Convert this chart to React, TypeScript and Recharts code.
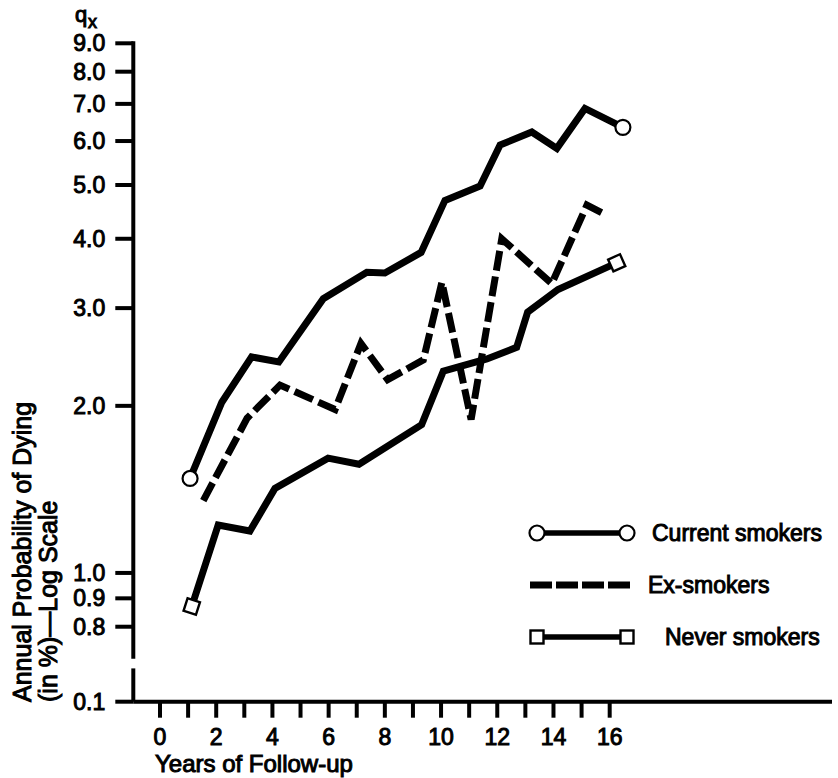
import { Label, Legend, Line, LineChart, ReferenceLine, XAxis, YAxis } from "recharts";

const FONT = '"Liberation Sans", Arial, Helvetica, sans-serif';

// values (x = position along the follow-up axis, qx = % per year)
const currentYears = [1.07, 2.2, 3.26, 4.23, 5.81, 7.36, 8.0, 9.29, 10.14, 11.39, 12.1, 13.23, 14.12, 15.12, 16.47];
const currentQx = [1.48, 2.03, 2.45, 2.4, 3.12, 3.48, 3.47, 3.78, 4.69, 4.98, 5.9, 6.23, 5.82, 6.87, 6.35];

const exYears = [1.54, 3.1, 4.27, 6.23, 7.15, 8.1, 9.37, 10.03, 11.07, 12.16, 13.94, 15.19, 15.9];
const exQx = [1.35, 1.9, 2.18, 1.97, 2.59, 2.23, 2.42, 3.34, 1.89, 4.0, 3.32, 4.6, 4.41];

const neverYears = [1.13, 2.07, 3.2, 4.09, 5.98, 7.08, 9.31, 10.08, 11.63, 12.69, 13.08, 14.16, 16.25];
const neverQx = [0.87, 1.22, 1.19, 1.42, 1.61, 1.57, 1.85, 2.31, 2.43, 2.55, 2.95, 3.24, 3.62];

const xTicks = [0, 1, 2, 3, 4, 5, 6, 7, 8, 9, 10, 11, 12, 13, 14, 15, 16];
const yTickValues = [0.1, 0.8, 0.9, 1.0, 2.0, 3.0, 4.0, 5.0, 6.0, 7.0, 8.0, 9.0];
const yTickLabels = ["0.1", "0.8", "0.9", "1.0", "2.0", "3.0", "4.0", "5.0", "6.0", "7.0", "8.0", "9.0"];

// log scale with a broken axis: 0.1 is parked just under the gap
const Y_TOP = Math.log10(9);
const Y_BOTTOM = -0.232;
const BREAK_HI = -0.151;
const BREAK_LO = -0.172;
const X_MIN = -0.95;
const X_MAX = 23.91;

const toAxis = (v: number) => (v < 0.5 ? Y_BOTTOM : Math.log10(v));
const build = (years: number[], qx: number[]) => years.map((t, i) => ({ t, y: toAxis(qx[i]) }));

const current = build(currentYears, currentQx);
const ex = build(exYears, exQx);
const never = build(neverYears, neverQx);
const yTicks = yTickValues.map(toAxis);

const circleEnds = (last: number) => (p: any) =>
  p.index === 0 || p.index === last ? (
    <circle key={`c${p.index}`} cx={p.cx} cy={p.cy} r={7.5} fill="#fff" stroke="#000" strokeWidth={2.2} />
  ) : (
    <g key={`c${p.index}`} />
  );

const squareEnds = (last: number) => (p: any) =>
  p.index === 0 || p.index === last ? (
    <rect
      key={`s${p.index}`}
      x={p.cx - 6.5}
      y={p.cy - 6.5}
      width={13}
      height={13}
      fill="#fff"
      stroke="#000"
      strokeWidth={2.4}
      transform={`rotate(${p.index === 0 ? 18 : -24} ${p.cx} ${p.cy})`}
    />
  ) : (
    <g key={`s${p.index}`} />
  );

const txt = { fontFamily: FONT, fill: "#000", stroke: "#000", strokeWidth: 1 };

const LegendBox = () => (
  <svg width={320} height={150} style={{ display: "block" }}>
    <line x1={12} y1={23} x2={102} y2={23} stroke="#000" strokeWidth={5.5} />
    <circle cx={12} cy={23} r={7.5} fill="#fff" stroke="#000" strokeWidth={2.2} />
    <circle cx={102} cy={23} r={7.5} fill="#fff" stroke="#000" strokeWidth={2.2} />
    <text x={127} y={31} fontSize={23} {...txt}>Current smokers</text>

    <line x1={5} y1={75} x2={105} y2={75} stroke="#000" strokeWidth={7} strokeDasharray="22 4" />
    <text x={123} y={83} fontSize={23} {...txt}>Ex-smokers</text>

    <line x1={12} y1={127} x2={102} y2={127} stroke="#000" strokeWidth={5.5} />
    <rect x={5.5} y={120.5} width={13} height={13} fill="#fff" stroke="#000" strokeWidth={2.4} />
    <rect x={95.5} y={120.5} width={13} height={13} fill="#fff" stroke="#000" strokeWidth={2.4} />
    <text x={140} y={135} fontSize={23} {...txt}>Never smokers</text>
  </svg>
);

const YTitle = () => (
  <g>
    <text x={75} y={22} fontSize={22} {...txt}>q</text>
    <text x={88} y={28} fontSize={18} {...txt}>x</text>
    <text transform="translate(31,702) rotate(-90)" fontSize={25} {...txt}>
      Annual Probability of Dying
    </text>
    <text transform="translate(57,702) rotate(-90)" fontSize={25} {...txt}>
      (in %)—Log Scale
    </text>
  </g>
);

const XTitle = () => (
  <text x={155} y={772} fontSize={24} {...txt}>
    Years of Follow-up
  </text>
);

export default function App() {
  return (
    <div style={{ position: "absolute", left: 0, top: 0, background: "#fff" }}>
      <LineChart width={838} height={778} margin={{ top: 43.3, right: 6, bottom: 0, left: 0 }}>
        <XAxis
          type="number"
          dataKey="t"
          domain={[X_MIN, X_MAX]}
          allowDataOverflow
          ticks={xTicks}
          interval={0}
          tickFormatter={(v: number) => (v % 2 === 0 ? String(v) : "")}
          height={76.3}
          tickSize={16}
          tickMargin={11}
          axisLine={{ stroke: "#000", strokeWidth: 4 }}
          tickLine={{ stroke: "#000", strokeWidth: 4 }}
          tick={{ fontSize: 23, ...txt }}
        >
          <Label content={<XTitle />} />
        </XAxis>
        <YAxis
          type="number"
          dataKey="y"
          domain={[Y_BOTTOM, Y_TOP]}
          allowDataOverflow
          ticks={yTicks}
          interval={0}
          tickFormatter={(v: number) => yTickLabels[yTicks.findIndex((t) => Math.abs(t - v) < 1e-6)] ?? ""}
          width={133.3}
          tickSize={18}
          tickMargin={10}
          axisLine={false}
          tickLine={{ stroke: "#000", strokeWidth: 4 }}
          tick={{ fontSize: 23, ...txt }}
        >
          <Label content={<YTitle />} />
        </YAxis>

        <ReferenceLine
          segment={[{ x: X_MIN, y: Y_TOP }, { x: X_MIN, y: BREAK_HI }]}
          stroke="#000"
          strokeWidth={4}
          strokeLinecap="square"
        />
        <ReferenceLine
          segment={[{ x: X_MIN, y: BREAK_LO }, { x: X_MIN, y: Y_BOTTOM }]}
          stroke="#000"
          strokeWidth={4}
        />

        <Line
          data={never}
          dataKey="y"
          stroke="#000"
          strokeWidth={7}
          dot={squareEnds(never.length - 1)}
          activeDot={false}
          isAnimationActive={false}
        />
        <Line
          data={ex}
          dataKey="y"
          stroke="#000"
          strokeWidth={7}
          strokeDasharray="20 6"
          dot={false}
          activeDot={false}
          isAnimationActive={false}
        />
        <Line
          data={current}
          dataKey="y"
          stroke="#000"
          strokeWidth={7}
          dot={circleEnds(current.length - 1)}
          activeDot={false}
          isAnimationActive={false}
        />

        <Legend
          layout="vertical"
          align="center"
          verticalAlign="middle"
          content={<LegendBox />}
          wrapperStyle={{ left: 525, top: 510, width: 320 }}
        />
      </LineChart>
    </div>
  );
}
